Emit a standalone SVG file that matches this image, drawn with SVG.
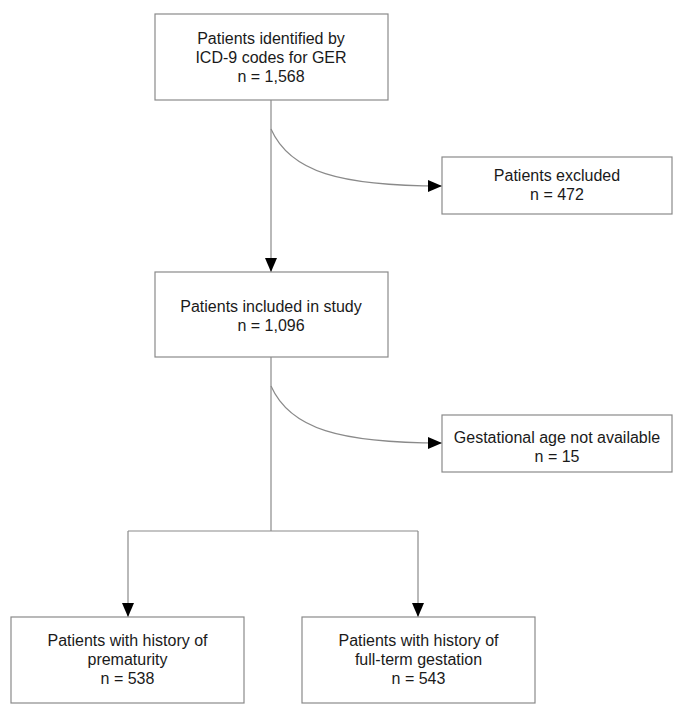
<svg xmlns="http://www.w3.org/2000/svg" width="685" height="710" viewBox="0 0 685 710">
<defs>
<style>
.box{fill:#fff;stroke:#8a8a8a;stroke-width:1.2}
.ln{fill:none;stroke:#8a8a8a;stroke-width:1.2}
text{font-family:"Liberation Sans",Arial,sans-serif;font-size:16px;fill:#1a1a1a;text-anchor:middle}
</style>
<marker id="ah" markerUnits="userSpaceOnUse" markerWidth="14" markerHeight="12" refX="14" refY="6" orient="auto">
<path d="M0,0 L14,6 L0,12 Z" fill="#000"/>
</marker>
</defs>
<rect width="685" height="710" fill="#fff"/>
<g id="connectors">
<path class="ln" d="M271,100 V272" marker-end="url(#ah)"/>
<path class="ln" d="M271,129 C290,172 340,186 442,186" marker-end="url(#ah)"/>
<path class="ln" d="M271,357 V531"/>
<path class="ln" d="M271,386 C290,429 340,443 442,443" marker-end="url(#ah)"/>
<path class="ln" d="M128,531 H418"/>
<path class="ln" d="M128,531 V617" marker-end="url(#ah)"/>
<path class="ln" d="M418,531 V617" marker-end="url(#ah)"/>
</g>
<g id="identified">
<rect class="box" x="155" y="14" width="233" height="86"/>
<text x="271" y="44">Patients identified by</text>
<text x="271" y="63">ICD-9 codes for GER</text>
<text x="271" y="82">n = 1,568</text>
</g>
<g id="excluded">
<rect class="box" x="442" y="157" width="230" height="57"/>
<text x="557" y="181">Patients excluded</text>
<text x="557" y="200">n = 472</text>
</g>
<g id="included">
<rect class="box" x="155" y="272" width="233" height="85"/>
<text x="271" y="312">Patients included in study</text>
<text x="271" y="331">n = 1,096</text>
</g>
<g id="gestational">
<rect class="box" x="442" y="415" width="230" height="57"/>
<text x="557" y="443">Gestational age not available</text>
<text x="557" y="462">n = 15</text>
</g>
<g id="premature">
<rect class="box" x="11" y="617" width="233" height="86"/>
<text x="127.5" y="646">Patients with history of</text>
<text x="127.5" y="665">prematurity</text>
<text x="127.5" y="684">n = 538</text>
</g>
<g id="fullterm">
<rect class="box" x="302" y="617" width="233" height="86"/>
<text x="418.5" y="646">Patients with history of</text>
<text x="418.5" y="665">full-term gestation</text>
<text x="418.5" y="684">n = 543</text>
</g>
</svg>
